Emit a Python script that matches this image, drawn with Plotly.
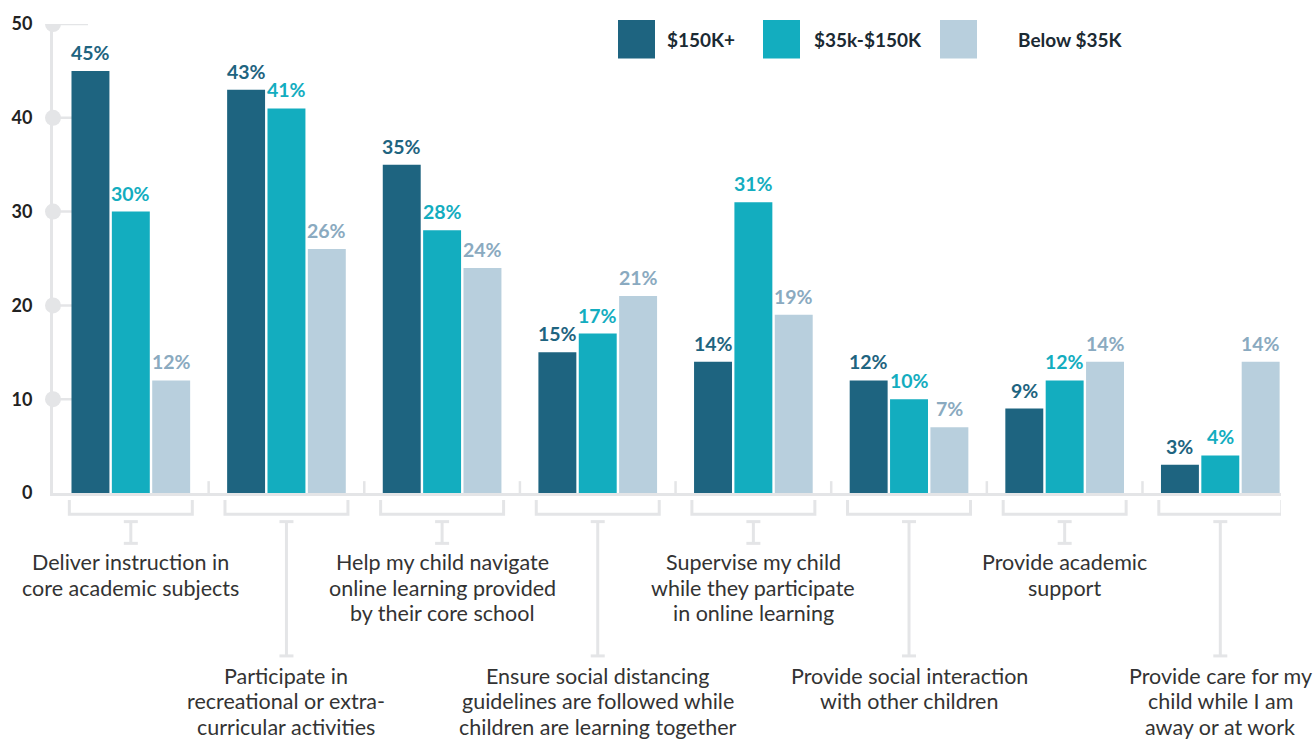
import plotly.graph_objects as go

# --- data -----------------------------------------------------------------
categories = [
    "Deliver instruction in<br>core academic subjects",
    "Participate in<br>recreational or extra-<br>curricular activities",
    "Help my child navigate<br>online learning provided<br>by their core school",
    "Ensure social distancing<br>guidelines are followed while<br>children are learning together",
    "Supervise my child<br>while they participate<br>in online learning",
    "Provide social interaction<br>with other children",
    "Provide academic<br>support",
    "Provide care for my<br>child while I am<br>away or at work",
]
series_names = ["$150K+", "$35k-$150K", "Below $35K"]
income_150k_plus = [45, 43, 35, 15, 14, 12, 9, 3]
income_35k_150k = [30, 41, 28, 17, 31, 10, 12, 4]
income_below_35k = [12, 26, 24, 21, 19, 7, 14, 14]
y_ticks = [0, 10, 20, 30, 40, 50]

# --- style ----------------------------------------------------------------
W, H = 1315, 743
ML, MR, MT, MB = 53, 34, 18, 250
PLOT_LEFT, PLOT_RIGHT = ML, W - MR
PLOT_TOP, PLOT_BOTTOM = MT, H - MB
FONT = "Lato, 'Noto Sans', sans-serif"
bar_colors = ["#1e6480", "#13adbf", "#b8cfdd"]
label_colors = ["#1e6480", "#13adbf", "#8aaac0"]
grey = "#e4e5e7"
BARGAP, GROUPGAP = 0.222, 0.06
X_RANGE = [-0.5, 7.39]
LINE_STEP = 26


def px_x(px):
    return (px - PLOT_LEFT) / (PLOT_RIGHT - PLOT_LEFT)


def px_y(py):
    return (PLOT_BOTTOM - py) / (PLOT_BOTTOM - PLOT_TOP)


xs = list(range(len(categories)))
series = [income_150k_plus, income_35k_150k, income_below_35k]

fig = go.Figure()
for name, vals, col in zip(series_names, series, bar_colors):
    fig.add_trace(go.Bar(x=xs, y=vals, name=name, marker=dict(color=col, line=dict(width=0)),
                         showlegend=False, hoverinfo="skip"))

shapes = []
annotations = []

# value labels above each bar
slot = (1 - BARGAP) / 3
for j, (vals, col) in enumerate(zip(series, label_colors)):
    for i, v in enumerate(vals):
        annotations.append(dict(
            x=i + (j - 1) * slot, y=v, xref="x", yref="y", text=f"{v}%",
            showarrow=False, yanchor="bottom", yshift=5,
            font=dict(family=FONT, size=19.5, color=col, weight="bold"),
        ))

# y-axis decoration: short tick lines and circular markers
for t in y_ticks:
    if t == 0:
        continue
    shapes.append(dict(type="line", xref="paper", yref="y", xsizemode="pixel", xanchor=0,
                       x0=0, x1=35, y0=t, y1=t, line=dict(color=grey, width=2.5), layer="below"))
    shapes.append(dict(type="circle", xref="paper", yref="y", xsizemode="pixel", ysizemode="pixel",
                       xanchor=0, yanchor=t, x0=-8, x1=8, y0=-8, y1=8,
                       fillcolor=grey, line=dict(width=0), layer="above"))

# small separators between groups on the baseline
for i in range(len(categories) - 1):
    shapes.append(dict(type="line", xref="x", yref="paper", x0=i + 0.5, x1=i + 0.5,
                       y0=0, y1=px_y(481), line=dict(color=grey, width=2.5)))

# brackets, connectors and category labels
half = 0.395
for i, cat in enumerate(categories):
    low = i % 2 == 1
    b_top, b_bot = px_y(500), px_y(514.5)
    shapes.append(dict(type="path", xref="x", yref="paper",
                       path=f"M {i - half},{b_top} L {i - half},{b_bot} L {i + half},{b_bot} L {i + half},{b_top}",
                       line=dict(color=grey, width=3)))
    c_top = px_y(522)
    c_bot = px_y(658 if low else 544)
    shapes.append(dict(type="line", xref="x", yref="paper", x0=i, x1=i, y0=c_top, y1=c_bot,
                       line=dict(color=grey, width=3)))
    for cy in (c_top, c_bot):
        shapes.append(dict(type="line", xref="x", yref="paper", xsizemode="pixel", xanchor=i,
                           x0=-7, x1=7, y0=cy, y1=cy, line=dict(color=grey, width=3)))
    first_line = 678 if low else 563
    for k, line in enumerate(cat.split("<br>")):
        annotations.append(dict(
            x=i, y=px_y(first_line + k * LINE_STEP), xref="x", yref="paper", text=line,
            showarrow=False, yanchor="middle", align="center",
            font=dict(family=FONT, size=21.5, color="#333333"),
        ))

# legend
legend_items = [(618, 665), (763, 812), (940, 1016)]
for (sq_x, tx_x), name, col in zip(legend_items, series_names, bar_colors):
    shapes.append(dict(type="rect", xref="paper", yref="paper",
                       x0=px_x(sq_x), x1=px_x(sq_x + 37), y0=px_y(14), y1=px_y(53),
                       fillcolor=col, line=dict(width=0)))
    annotations.append(dict(x=px_x(tx_x), y=px_y(33.5), xref="paper", yref="paper", text=name,
                            showarrow=False, xanchor="left", yanchor="middle",
                            font=dict(family=FONT, size=19, color="#1b2a33", weight="bold")))

fig.update_layout(
    width=W, height=H,
    margin=dict(l=ML, r=MR, t=MT, b=MB),
    paper_bgcolor="white", plot_bgcolor="white",
    barmode="group", bargap=BARGAP, bargroupgap=GROUPGAP,
    xaxis=dict(range=X_RANGE, showticklabels=False, showgrid=False, zeroline=False,
               showline=True, linecolor=grey, linewidth=3, ticks=""),
    yaxis=dict(range=[0, 50], tickvals=y_ticks, showgrid=False, zeroline=False,
               showline=True, linecolor=grey, linewidth=3, ticks="",
               ticklabelstandoff=14,
               tickfont=dict(family=FONT, size=18, color="#222222", weight="bold")),
    shapes=shapes, annotations=annotations,
    showlegend=False,
)

fig.write_html("out.html")
